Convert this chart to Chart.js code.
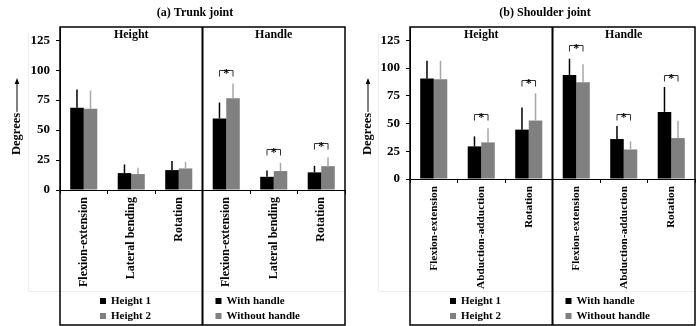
<!DOCTYPE html>
<html><head><meta charset="utf-8">
<script src="https://cdn.jsdelivr.net/npm/chart.js@4.4.1/dist/chart.umd.min.js"></script>
<style>
html,body{margin:0;padding:0;background:#fff;}
#wrap{position:relative;width:700px;height:326px;background:#fff;}
canvas{position:absolute;top:0;}
</style></head><body>
<div id="wrap">
<canvas id="c1" width="350" height="326" style="left:0"></canvas>
<canvas id="c2" width="350" height="326" style="left:350px"></canvas>
</div>
<script>
// ---------- data ----------
const yTickValues = [0, 25, 50, 75, 100, 125];
const groupNames = ['Height', 'Handle'];
const heightLabels = ['Height 1', 'Height 2'];
const handleLabels = ['With handle', 'Without handle'];
const yTitle = 'Degrees';

// (a) Trunk joint
const trunkTitle = '(a) Trunk joint';
const trunkMotions = ['Flexion-extension', 'Lateral bending', 'Rotation'];
const trunkHeight1 = [68.6, 14.1, 16.6];
const trunkHeight1SD = [15.2, 7.2, 7.7];
const trunkHeight2 = [67.8, 13.3, 18.0];
const trunkHeight2SD = [15.2, 5.2, 5.5];
const trunkWithHandle = [59.7, 11.0, 14.7];
const trunkWithHandleSD = [13.3, 5.3, 5.5];
const trunkWithoutHandle = [76.6, 15.8, 19.9];
const trunkWithoutHandleSD = [12.2, 6.9, 7.2];
const trunkHeightSig = [null, null, null];     // bracket level (degrees)
const trunkHandleSig = [100, 34.6, 39.3];

// (b) Shoulder joint
const shoulderTitle = '(b) Shoulder joint';
const shoulderMotions = ['Flexion-extension', 'Abduction-adduction', 'Rotation'];
const shoulderHeight1 = [90.5, 29.4, 44.5];
const shoulderHeight1SD = [16.0, 9.0, 20.0];
const shoulderHeight2 = [89.9, 33.0, 52.7];
const shoulderHeight2SD = [16.6, 12.7, 24.5];
const shoulderWithHandle = [93.8, 36.0, 60.5];
const shoulderWithHandleSD = [14.6, 11.8, 22.4];
const shoulderWithoutHandle = [87.2, 26.6, 36.9];
const shoulderWithoutHandleSD = [16.3, 7.3, 15.5];
const shoulderHeightSig = [null, 59, 89.3];
const shoulderHandleSig = [120.5, 59, 94.1];

// ---------- styling ----------
const FAM = "'Liberation Serif', 'Times New Roman', serif";
const BLACK = '#000000', GRAY = '#808080';
const ERR_COLORS = ['#000000', '#a8a8a8', '#000000', '#a8a8a8'];
const N3 = [null, null, null];

function makeDecor(p) {
  return {
    id: 'decor',
    afterLayout(chart) {
      if (chart.titleBlock) {
        chart.titleBlock.left = chart.chartArea.left - 15;
        chart.titleBlock.right = chart.chartArea.right;
      }
    },
    beforeDraw(chart) {
      const ctx = chart.ctx, ca = chart.chartArea;
      ctx.save();
      ctx.strokeStyle = '#eeeeee';
      ctx.lineWidth = 1;
      ctx.beginPath();
      ctx.moveTo(28.5, 33); ctx.lineTo(28.5, 291.5); ctx.lineTo(ca.right, 291.5);
      ctx.stroke();
      ctx.restore();
    },
    afterDatasetsDraw(chart) {
      const ctx = chart.ctx, ys = chart.scales.y;
      ctx.save();
      // error bars (upper only)
      chart.data.datasets.forEach((ds, i) => {
        const meta = chart.getDatasetMeta(i);
        ds.data.forEach((v, j) => {
          if (v == null) return;
          const sd = p.sd[i][j];
          if (sd == null) return;
          const el = meta.data[j];
          ctx.strokeStyle = ERR_COLORS[i];
          ctx.lineWidth = 1.5;
          ctx.beginPath();
          ctx.moveTo(el.x, el.y);
          ctx.lineTo(el.x, ys.getPixelForValue(v + sd));
          ctx.stroke();
        });
      });
      // significance brackets
      p.sig.forEach((lvl, j) => {
        if (lvl == null) return;
        const pair = j < 3 ? [0, 1] : [2, 3];
        const x1 = chart.getDatasetMeta(pair[0]).data[j].x;
        const x2 = chart.getDatasetMeta(pair[1]).data[j].x;
        const yb = Math.round(ys.getPixelForValue(lvl)) + 0.5;
        ctx.strokeStyle = '#333';
        ctx.lineWidth = 1;
        ctx.beginPath();
        ctx.moveTo(x1, yb + 6); ctx.lineTo(x1, yb); ctx.lineTo(x2, yb); ctx.lineTo(x2, yb + 6);
        ctx.stroke();
        ctx.fillStyle = '#000';
        ctx.font = 'bold 12px ' + FAM;
        ctx.textAlign = 'center';
        ctx.textBaseline = 'alphabetic';
        ctx.fillText('*', (x1 + x2) / 2, yb + 6);
      });
      ctx.restore();
    },
    afterDraw(chart) {
      const ctx = chart.ctx, ca = chart.chartArea, xs = chart.scales.x;
      const H = chart.height;
      const divX = (xs.getPixelForValue(2) + xs.getPixelForValue(3)) / 2;
      ctx.save();
      // y-axis title with arrow
      ctx.fillStyle = '#000';
      ctx.strokeStyle = '#000';
      ctx.font = 'bold 12.5px ' + FAM;
      ctx.translate(p.yTitleX, 155);
      ctx.rotate(-Math.PI / 2);
      ctx.textAlign = 'left';
      ctx.textBaseline = 'middle';
      ctx.fillText(yTitle, 0, 0);
      const tw = ctx.measureText(yTitle).width;
      ctx.lineWidth = 1;
      ctx.beginPath();
      ctx.moveTo(tw + 1, 0.5); ctx.lineTo(tw + 31, 0.5);
      ctx.stroke();
      ctx.beginPath();
      ctx.moveTo(tw + 35, 0.5); ctx.lineTo(tw + 29, -1.8); ctx.lineTo(tw + 29, 2.8); ctx.closePath();
      ctx.fill();
      ctx.setTransform(1, 0, 0, 1, 0, 0);
      // outer box and divider
      ctx.strokeStyle = '#000';
      ctx.lineWidth = 1.5;
      ctx.strokeRect(ca.left, ca.top, ca.right - ca.left, H - 1 - ca.top);
      ctx.lineWidth = 2;
      ctx.beginPath();
      ctx.moveTo(divX, ca.top); ctx.lineTo(divX, H - 1);
      ctx.stroke();
      // group names
      ctx.fillStyle = '#000';
      ctx.font = 'bold 12px ' + FAM;
      ctx.textAlign = 'center';
      ctx.textBaseline = 'middle';
      ctx.fillText(groupNames[0], (ca.left + divX) / 2, ca.top + 8);
      ctx.fillText(groupNames[1], (divX + ca.right) / 2, ca.top + 8);
      // legends
      const ds = chart.data.datasets;
      const cols = [[ca.left + 40, [0, 1]], [divX + 13, [2, 3]]];
      ctx.font = 'bold 11px ' + FAM;
      ctx.textAlign = 'left';
      cols.forEach(([mx, idx]) => {
        idx.forEach((di, k) => {
          const y = 301 + k * 15;
          ctx.fillStyle = ds[di].backgroundColor;
          ctx.fillRect(mx, y - 3, 6, 6);
          ctx.fillStyle = '#000';
          ctx.fillText(ds[di].label, mx + 11, y + 0.5);
        });
      });
      ctx.restore();
    }
  };
}

function makePanel(id, title, motions, h1, h1sd, h2, h2sd, w, wsd, wo, wosd, sigH, sigW, yMax, xHeight, labSize, yTitleX) {
  const labels = motions.concat(motions);
  const datasets = [
    { label: heightLabels[0], data: h1.concat(N3), backgroundColor: BLACK },
    { label: heightLabels[1], data: h2.concat(N3), backgroundColor: GRAY },
    { label: handleLabels[0], data: N3.concat(w), backgroundColor: BLACK },
    { label: handleLabels[1], data: N3.concat(wo), backgroundColor: GRAY }
  ].map(d => Object.assign(d, { borderWidth: 0, skipNull: true, categoryPercentage: 0.57, barPercentage: 1.0 }));
  const sd = [h1sd.concat(N3), h2sd.concat(N3), N3.concat(wsd), N3.concat(wosd)];
  const sig = sigH.concat(sigW);
  const tickFont = { family: FAM, weight: 'bold', size: 13 };
  const labFont = { family: FAM, weight: 'bold', size: labSize };
  return new Chart(document.getElementById(id), {
    type: 'bar',
    data: { labels, datasets },
    options: {
      responsive: false,
      animation: false,
      devicePixelRatio: 1,
      layout: { padding: { left: 0, right: 5, top: 0, bottom: 0 } },
      plugins: {
        legend: { display: false },
        tooltip: { enabled: false },
        title: {
          display: true, text: title, color: '#000',
          font: { family: FAM, weight: 'bold', size: 12, lineHeight: 1.2 },
          padding: { top: 6, bottom: 6.6 }
        }
      },
      scales: {
        x: {
          grid: { drawOnChartArea: false, drawTicks: true, tickLength: 4, color: '#000', offset: true },
          border: { color: '#000', width: 1 },
          ticks: { minRotation: 90, maxRotation: 90, autoSkip: false, color: '#000', font: labFont, padding: 3 },
          afterFit(s) { s.height = xHeight; }
        },
        y: {
          min: 0, max: yMax,
          afterBuildTicks(s) { s.ticks = yTickValues.map(v => ({ value: v })); },
          grid: { drawOnChartArea: false, drawTicks: true, tickLength: 4, color: '#000' },
          border: { color: '#000', width: 1 },
          ticks: { color: '#000', font: tickFont, padding: 6 },
          afterFit(s) { s.width = 60; }
        }
      }
    },
    plugins: [makeDecor({ sd, sig, yTitleX })]
  });
}

makePanel('c1', trunkTitle, trunkMotions,
  trunkHeight1, trunkHeight1SD, trunkHeight2, trunkHeight2SD,
  trunkWithHandle, trunkWithHandleSD, trunkWithoutHandle, trunkWithoutHandleSD,
  trunkHeightSig, trunkHandleSig, 136, 136, 12, 16.5);

makePanel('c2', shoulderTitle, shoulderMotions,
  shoulderHeight1, shoulderHeight1SD, shoulderHeight2, shoulderHeight2SD,
  shoulderWithHandle, shoulderWithHandleSD, shoulderWithoutHandle, shoulderWithoutHandleSD,
  shoulderHeightSig, shoulderHandleSig, 137, 147, 11.3, 17.5);
</script>
</body></html>
